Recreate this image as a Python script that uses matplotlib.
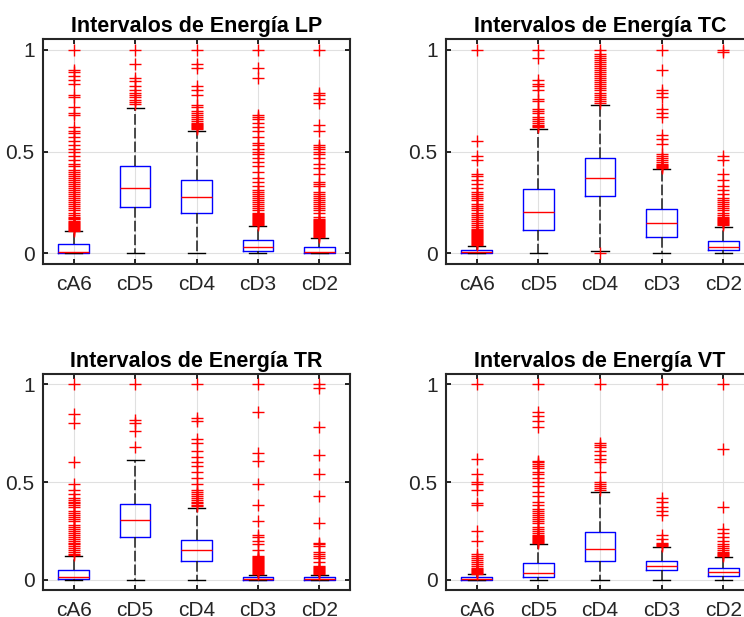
import numpy as np
import matplotlib
matplotlib.use('Agg')
import matplotlib.pyplot as plt

plt.rcParams['font.family'] = ['Liberation Sans', 'DejaVu Sans']

bands = ['cA6', 'cD5', 'cD4', 'cD3', 'cD2']
titles = ['Intervalos de Energía LP', 'Intervalos de Energía TC',
          'Intervalos de Energía TR', 'Intervalos de Energía VT']

# Box statistics per band (normalised energy)
lp_q1 = [0.003, 0.226, 0.197, 0.013, 0.001]
lp_med = [0.008, 0.323, 0.275, 0.033, 0.008]
lp_q3 = [0.044, 0.430, 0.360, 0.066, 0.033]
lp_lo = [0.0, 0.0, 0.0, 0.0, 0.0]
lp_hi = [0.110, 0.713, 0.603, 0.134, 0.077]
lp_out = [
    [0.11, 0.115, 0.12, 0.125, 0.13, 0.135, 0.14, 0.145, 0.15, 0.155, 0.16, 0.17, 0.175, 0.18,
     0.19, 0.20, 0.21, 0.22, 0.23, 0.24, 0.25, 0.26, 0.27, 0.28, 0.29, 0.30, 0.31, 0.32, 0.33,
     0.34, 0.35, 0.36, 0.37, 0.38, 0.39, 0.40, 0.41, 0.43, 0.44, 0.46, 0.48, 0.50, 0.51, 0.53,
     0.55, 0.57, 0.59, 0.60, 0.62, 0.68, 0.69, 0.72, 0.77, 0.78, 0.83, 0.85, 0.87, 0.89, 0.90, 1.0],
    [0.735, 0.745, 0.755, 0.77, 0.78, 0.79, 0.80, 0.82, 0.845, 0.86, 0.93, 1.0],
    [0.61, 0.615, 0.62, 0.625, 0.63, 0.635, 0.64, 0.65, 0.66, 0.67, 0.68, 0.69, 0.70, 0.72,
     0.73, 0.78, 0.80, 0.82, 0.91, 0.93, 1.0],
    [0.14, 0.145, 0.15, 0.155, 0.16, 0.165, 0.17, 0.175, 0.18, 0.185, 0.19, 0.195, 0.20, 0.21,
     0.22, 0.23, 0.24, 0.25, 0.26, 0.27, 0.28, 0.29, 0.30, 0.31, 0.33, 0.35, 0.37, 0.40, 0.43,
     0.45, 0.47, 0.49, 0.50, 0.51, 0.53, 0.54, 0.57, 0.60, 0.62, 0.64, 0.66, 0.67, 0.68, 0.86,
     0.91, 1.0],
    [0.08, 0.085, 0.09, 0.095, 0.10, 0.105, 0.11, 0.115, 0.12, 0.125, 0.13, 0.135, 0.14, 0.145,
     0.15, 0.155, 0.16, 0.165, 0.17, 0.18, 0.20, 0.21, 0.22, 0.23, 0.24, 0.25, 0.26, 0.27, 0.28,
     0.29, 0.30, 0.33, 0.34, 0.35, 0.39, 0.42, 0.44, 0.47, 0.49, 0.50, 0.51, 0.52, 0.53, 0.60,
     0.63, 0.74, 0.76, 0.78, 0.79, 1.0],
]

tc_q1 = [0.0, 0.115, 0.282, 0.079, 0.016]
tc_med = [0.006, 0.203, 0.372, 0.149, 0.033]
tc_q3 = [0.016, 0.318, 0.466, 0.216, 0.062]
tc_lo = [0.0, 0.0, 0.011, 0.0, 0.0]
tc_hi = [0.035, 0.613, 0.731, 0.413, 0.131]
tc_out = [
    [0.04, 0.045, 0.05, 0.055, 0.06, 0.065, 0.07, 0.075, 0.08, 0.085, 0.09, 0.095, 0.10, 0.105,
     0.11, 0.115, 0.12, 0.13, 0.14, 0.15, 0.16, 0.17, 0.18, 0.19, 0.20, 0.21, 0.22, 0.23, 0.24,
     0.26, 0.27, 0.28, 0.29, 0.30, 0.32, 0.34, 0.36, 0.38, 0.39, 0.46, 0.48, 0.55, 1.0],
    [0.62, 0.625, 0.63, 0.64, 0.65, 0.66, 0.67, 0.69, 0.70, 0.71, 0.75, 0.76, 0.80, 0.82, 0.83,
     0.85, 0.96, 1.0],
    [0.0, 0.74, 0.75, 0.76, 0.77, 0.78, 0.79, 0.80, 0.81, 0.82, 0.83, 0.84, 0.85, 0.86, 0.87,
     0.88, 0.89, 0.90, 0.91, 0.92, 0.93, 0.94, 0.95, 0.96, 0.97, 0.98, 1.0],
    [0.42, 0.425, 0.43, 0.435, 0.44, 0.45, 0.46, 0.47, 0.48, 0.49, 0.535, 0.56, 0.58, 0.67, 0.69,
     0.71, 0.77, 0.79, 0.80, 0.90, 1.0],
    [0.14, 0.145, 0.15, 0.155, 0.16, 0.165, 0.17, 0.175, 0.18, 0.19, 0.20, 0.21, 0.22, 0.23,
     0.24, 0.25, 0.26, 0.27, 0.29, 0.31, 0.33, 0.36, 0.39, 0.46, 0.48, 0.99, 1.0],
]

tr_q1 = [0.003, 0.220, 0.093, 0.0, 0.0]
tr_med = [0.012, 0.303, 0.151, 0.005, 0.004]
tr_q3 = [0.047, 0.386, 0.203, 0.014, 0.012]
tr_lo = [0.0, 0.0, 0.0, 0.0, 0.0]
tr_hi = [0.119, 0.615, 0.368, 0.025, 0.025]
tr_out = [
    [0.125, 0.13, 0.14, 0.15, 0.16, 0.17, 0.18, 0.19, 0.20, 0.21, 0.22, 0.23, 0.24, 0.25, 0.26,
     0.27, 0.28, 0.30, 0.31, 0.32, 0.33, 0.34, 0.35, 0.37, 0.38, 0.39, 0.40, 0.41, 0.42, 0.44,
     0.46, 0.49, 0.60, 0.80, 0.85, 1.0],
    [0.68, 0.76, 0.80, 0.82, 1.0],
    [0.375, 0.38, 0.39, 0.40, 0.41, 0.42, 0.43, 0.44, 0.45, 0.46, 0.49, 0.52, 0.55, 0.58, 0.60,
     0.63, 0.66, 0.70, 0.72, 0.81, 0.83, 1.0],
    [0.03, 0.035, 0.04, 0.045, 0.05, 0.055, 0.06, 0.065, 0.07, 0.075, 0.08, 0.085, 0.09, 0.095,
     0.10, 0.105, 0.11, 0.115, 0.12, 0.15, 0.18, 0.20, 0.22, 0.23, 0.30, 0.38, 0.49, 0.61, 0.65,
     0.86, 1.0],
    [0.03, 0.035, 0.04, 0.045, 0.05, 0.055, 0.06, 0.065, 0.07, 0.09, 0.11, 0.12, 0.13, 0.14,
     0.17, 0.18, 0.19, 0.29, 0.43, 0.54, 0.64, 0.78, 0.98, 1.0],
]

vt_q1 = [0.0, 0.015, 0.097, 0.049, 0.020]
vt_med = [0.004, 0.034, 0.157, 0.072, 0.037]
vt_q3 = [0.012, 0.085, 0.245, 0.097, 0.060]
vt_lo = [0.0, 0.0, 0.0, 0.0, 0.0]
vt_hi = [0.029, 0.180, 0.450, 0.165, 0.114]
vt_out = [
    [0.03, 0.035, 0.04, 0.045, 0.05, 0.055, 0.06, 0.07, 0.08, 0.09, 0.10, 0.11, 0.12, 0.13,
     0.20, 0.25, 0.38, 0.39, 0.46, 0.49, 0.50, 0.54, 0.62, 1.0],
    [0.19, 0.195, 0.20, 0.205, 0.21, 0.215, 0.22, 0.225, 0.23, 0.24, 0.25, 0.26, 0.27, 0.29,
     0.30, 0.31, 0.32, 0.33, 0.34, 0.35, 0.36, 0.38, 0.40, 0.43, 0.45, 0.48, 0.50, 0.52, 0.54,
     0.55, 0.57, 0.58, 0.59, 0.60, 0.61, 0.78, 0.81, 0.84, 0.86, 1.0],
    [0.46, 0.47, 0.48, 0.49, 0.50, 0.55, 0.60, 0.62, 0.64, 0.66, 0.68, 0.69, 0.70, 1.0],
    [0.17, 0.175, 0.18, 0.19, 0.21, 0.23, 0.33, 0.35, 0.37, 0.40, 0.42, 1.0],
    [0.12, 0.125, 0.13, 0.135, 0.14, 0.15, 0.16, 0.17, 0.18, 0.20, 0.22, 0.24, 0.26, 0.37,
     0.67, 1.0],
]

panels = [
    (lp_q1, lp_med, lp_q3, lp_lo, lp_hi, lp_out),
    (tc_q1, tc_med, tc_q3, tc_lo, tc_hi, tc_out),
    (tr_q1, tr_med, tr_q3, tr_lo, tr_hi, tr_out),
    (vt_q1, vt_med, vt_q3, vt_lo, vt_hi, vt_out),
]

# axes rectangles in figure fractions (left, bottom, width, height)
W, H = 744, 617
rects = [
    (43 / W, (H - 264) / H, 307 / W, 225 / H),
    (446 / W, (H - 264) / H, 308 / W, 225 / H),
    (43 / W, (H - 590) / H, 307 / W, 216 / H),
    (446 / W, (H - 590) / H, 308 / W, 216 / H),
]

tick_gray = (0.15, 0.15, 0.15)

fig = plt.figure(figsize=(W / 100, H / 100), dpi=100)

for k, (q1, med, q3, lo, hi, out) in enumerate(panels):
    ax = fig.add_axes(rects[k])
    stats = []
    for i in range(len(bands)):
        stats.append(dict(med=med[i], q1=q1[i], q3=q3[i], whislo=lo[i], whishi=hi[i],
                          fliers=np.array(out[i]), label=bands[i]))
    ax.bxp(stats, positions=range(1, 6), widths=0.5, capwidths=0.28,
           boxprops=dict(color='blue', linewidth=1.0),
           medianprops=dict(color='red', linewidth=1.0),
           whiskerprops=dict(color=(0.1, 0.1, 0.1), linewidth=1.1, linestyle=(0, (7, 2))),
           capprops=dict(color='black', linewidth=1.0),
           flierprops=dict(marker='+', markeredgecolor='red', markersize=9,
                           markeredgewidth=1.0, linestyle='none'))

    ax.set_xlim(0.5, 5.5)
    ax.set_ylim(-0.053, 1.053)
    ax.set_yticks([0, 0.5, 1])
    ax.set_yticklabels(['0', '0.5', '1'])
    ax.set_xticks(range(1, 6))
    ax.set_xticklabels(bands)
    ax.grid(True, color=(0.88, 0.88, 0.88), linewidth=0.8)
    ax.set_axisbelow(True)
    ax.tick_params(direction='in', length=3.5, width=1.2, colors='black',
                   labelcolor=tick_gray, labelsize=15, top=True, right=True)
    ax.tick_params(axis='x', pad=8)
    ax.tick_params(axis='y', pad=6)
    for s in ax.spines.values():
        s.set_linewidth(1.5)
        s.set_color((0.15, 0.15, 0.15))
    ax.set_title(titles[k], fontsize=15.5, fontweight='bold', pad=5)

fig.savefig('out.png', dpi=100)
